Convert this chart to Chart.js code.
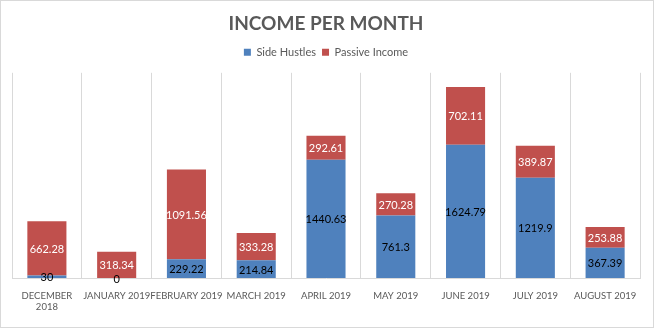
<!DOCTYPE html>
<html><head><meta charset="utf-8">
<script src="https://cdn.jsdelivr.net/npm/chart.js@4"></script>
<style>html,body{margin:0;padding:0;background:#fff}#wrap{width:654px;height:328px;position:relative;box-sizing:border-box;border:1px solid #d9d9d9;}</style>
</head><body>
<div id="wrap"><canvas id="c" width="652" height="326"></canvas></div>
<script>
const categories = [["DECEMBER","2018"],"JANUARY 2019","FEBRUARY 2019","MARCH 2019","APRIL 2019","MAY 2019","JUNE 2019","JULY 2019","AUGUST 2019"];
const sideHustles = [30,0,229.22,214.84,1440.63,761.3,1624.79,1219.9,367.39];
const passiveIncome = [662.28,318.34,1091.56,333.28,292.61,270.28,702.11,389.87,253.88];
const seriesNames = ["Side Hustles","Passive Income"];
const FONT = "Lato, 'Open Sans', sans-serif";

const labelPlugin = {
  id:'barLabels',
  afterDatasetsDraw(chart){
    const ctx = chart.ctx;
    ctx.save();
    ctx.font = "11px " + FONT;
    ctx.textAlign = 'center';
    ctx.textBaseline = 'middle';
    chart.data.datasets.forEach((ds,i)=>{
      const meta = chart.getDatasetMeta(i);
      meta.data.forEach((bar,j)=>{
        const v = ds.data[j];
        const y = (bar.y + bar.base)/2;
        ctx.fillStyle = i===0 ? '#000000' : '#ffffff';
        ctx.fillText(String(v), bar.x, y+1);
      });
    });
    ctx.restore();
  }
};
const legendPad = {
  id:'legendPad',
  beforeInit(chart){
    const fit = chart.legend.fit;
    chart.legend.fit = function(){ fit.bind(chart.legend)(); this.height += 5; };
  }
};

new Chart(document.getElementById('c'),{
  type:'bar',
  data:{labels:categories,datasets:[
    {label:seriesNames[0],data:sideHustles,backgroundColor:'#4F81BD',categoryPercentage:1,barPercentage:0.56},
    {label:seriesNames[1],data:passiveIncome,backgroundColor:'#C0504D',categoryPercentage:1,barPercentage:0.56}
  ]},
  options:{
    responsive:false,animation:false,
    layout:{padding:{left:11,right:13,top:0,bottom:0}},
    plugins:{
      title:{display:true,text:'INCOME PER MONTH',color:'#595959',font:{family:FONT,size:19,weight:'bold'},padding:{top:11,bottom:6}},
      legend:{display:true,position:'top',labels:{color:'#595959',font:{family:FONT,size:11},boxWidth:7,boxHeight:7,padding:6}},
      tooltip:{enabled:false}
    },
    scales:{
      x:{stacked:true,grid:{display:true,color:'#d9d9d9',offset:true,drawTicks:false},border:{display:true,color:'#d9d9d9'},
        ticks:{color:'#595959',font:{family:FONT,size:9.5},maxRotation:0,autoSkip:false,padding:12},
        afterFit(s){s.height=49;}},
      y:{stacked:true,display:false,min:0,max:2500}
    }
  },
  plugins:[labelPlugin,legendPad]
});
</script>
</body></html>
